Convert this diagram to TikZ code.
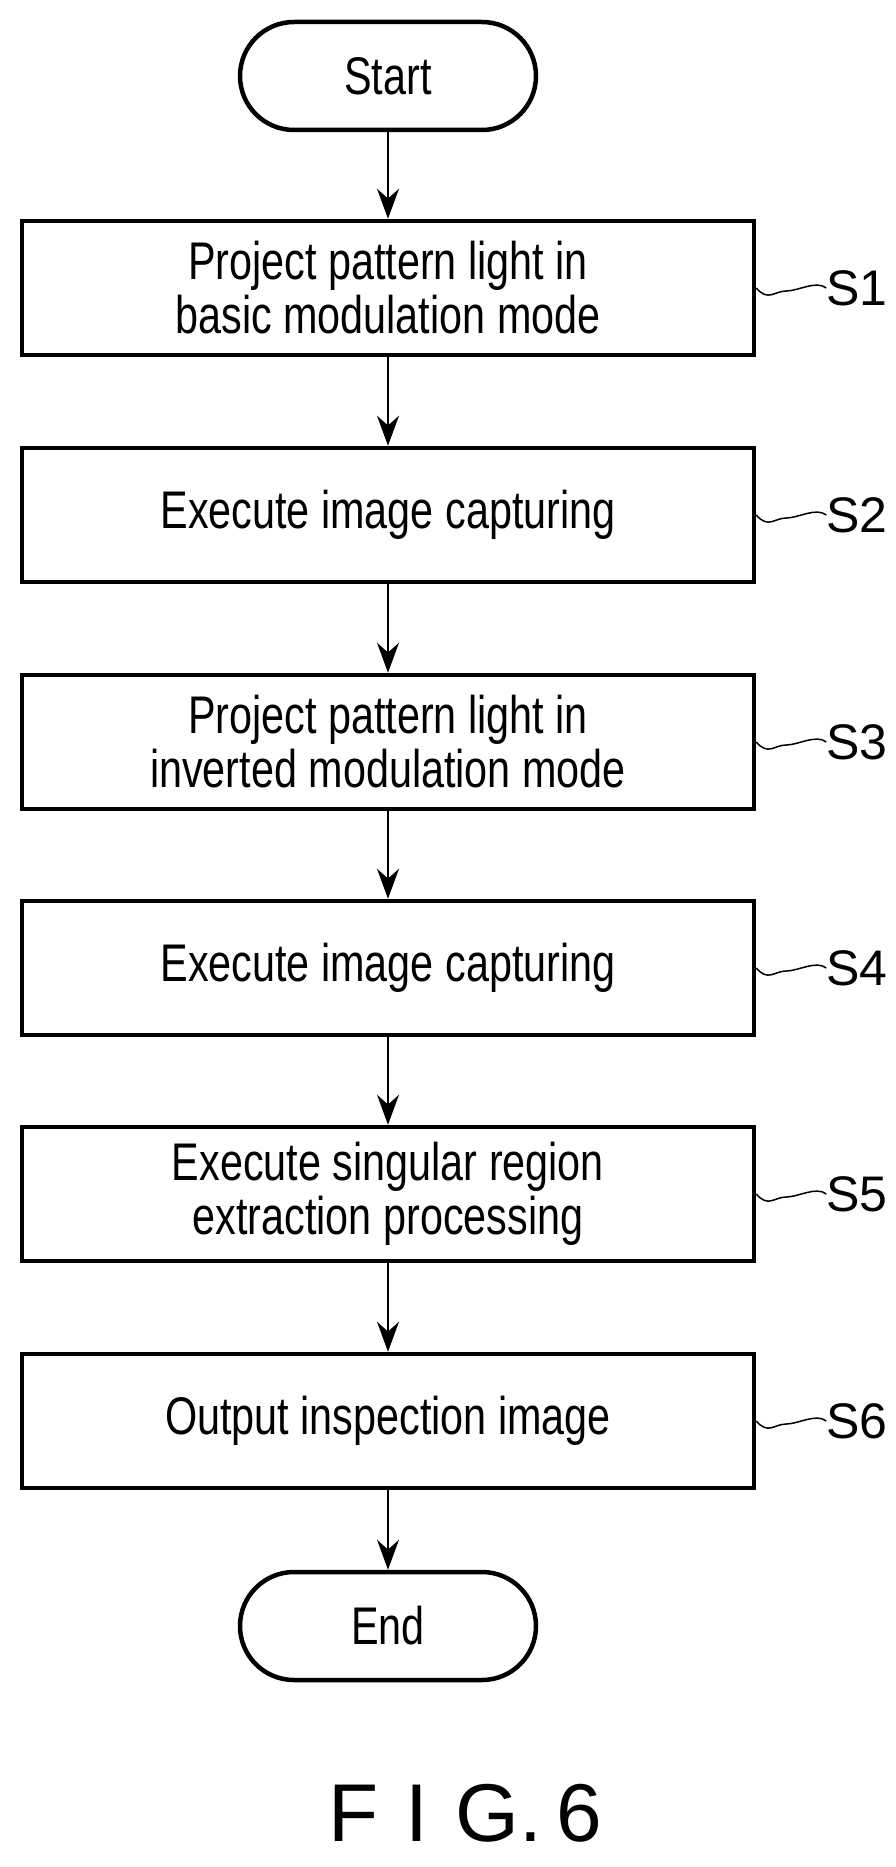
\documentclass[tikz,border=0pt]{standalone}
\usepackage{fontspec}
\setmainfont{Liberation Sans}[FakeStretch=0.78]
\newfontfamily\labfont{Liberation Sans}
\usetikzlibrary{arrows.meta}
\begin{document}
\begin{tikzpicture}[x=1pt,y=-1pt,
  box/.style={draw,line width=4.5pt,minimum width=732pt,minimum height=134pt,align=center,font=\fontsize{53}{54}\selectfont,inner sep=0pt},
  term/.style={draw,line width=4.5pt,rounded corners=54pt,minimum width=296pt,minimum height=108pt,font=\fontsize{53}{54}\selectfont,inner sep=0pt},
  arr/.style={line width=1.5pt,-{Stealth[length=30pt,width=22pt]}},
  lab/.style={font=\labfont\fontsize{50}{50}\selectfont,anchor=west,inner sep=0pt},
  wave/.style={line width=1.5pt}]
\useasboundingbox (0,0) rectangle (896,1867);
\node[term] (st) at (388,76) {Start};
\node[box] (s1) at (388,288) {Project pattern light in\\basic modulation mode};
\node[box] (s2) at (388,515) {Execute image capturing};
\node[box] (s3) at (388,742) {Project pattern light in\\inverted modulation mode};
\node[box] (s4) at (388,968) {Execute image capturing};
\node[box] (s5) at (388,1194) {Execute singular region\\extraction processing};
\node[box] (s6) at (388,1421) {Output inspection image};
\node[term] (en) at (388,1626) {End};
\draw[arr] (st) -- (s1);
\draw[arr] (s1) -- (s2);
\draw[arr] (s2) -- (s3);
\draw[arr] (s3) -- (s4);
\draw[arr] (s4) -- (s5);
\draw[arr] (s5) -- (s6);
\draw[arr] (s6) -- (en);
\foreach \n/\t in {s1/S1,s2/S2,s3/S3,s4/S4,s5/S5,s6/S6}{
  \node[lab] (l\n) at ([xshift=70pt]\n.east) {\t};
  \draw[wave] (\n.east) .. controls +(12pt,-14pt) and +(-12pt,0pt) .. +(30pt,-3pt)
     .. controls +(12pt,0pt) and +(-10pt,8pt) .. (l\n.west);
}
\node[font=\labfont\fontsize{82}{82}\selectfont,inner sep=0pt] (fig) at (465,1813) {F\,\,I\,\,G.\,6};
\end{tikzpicture}
\end{document}
